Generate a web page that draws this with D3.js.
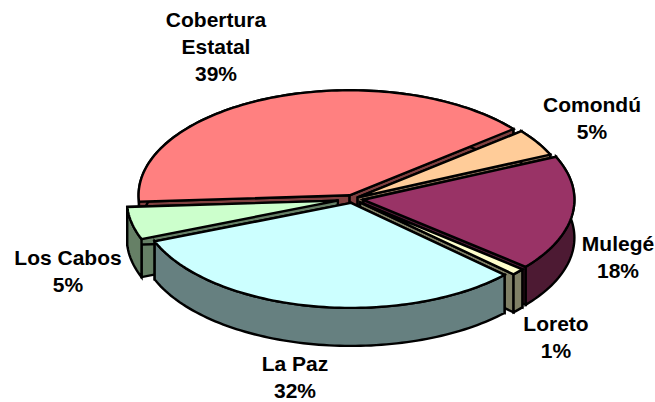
<!DOCTYPE html>
<html>
<head>
<meta charset="utf-8">
<script src="https://cdn.jsdelivr.net/npm/d3@7"></script>
<style>
  html, body { margin: 0; padding: 0; background: #fff; }
  text { font-family: "Liberation Sans", Arial, sans-serif; font-weight: bold; font-size: 21px; fill: #000; }
</style>
</head>
<body>
<svg id="chart" width="655" height="402"></svg>
<script>
const categories = ['Cobertura Estatal', 'Comondú', 'Mulegé', 'Loreto', 'La Paz', 'Los Cabos'];
const values = [39, 5, 18, 1, 32, 5];
const topColors = ['#FF8080', '#FFCC99', '#993366', '#FFFFCC', '#CCFFFF', '#CCFFCC'];
const wallColors = ['#804040', '#806650', '#4D1A33', '#808066', '#668080', '#668066'];

const svg = d3.select('svg#chart'),
    centerX = 352.5,
    centerY = 199,
    radiusX = 211,
    radiusY = 105,
    depth = 38,
    firstAngle = -93.5 * Math.PI / 180;

// how far each slice is pulled out, same order as categories
const explode = [8, 6, 11, 10, 8, 15];
// degrees the drawn slice edges are nudged, the picture has some perspective
const edgeNudge = [0, 4, 1, 0, 0, 0, 0];

// label lines and where each block sits, same order as categories
const labelLines = [['Cobertura', 'Estatal'], ['Comondú'], ['Mulegé'], ['Loreto'], ['La Paz'], ['Los Cabos']];
const labelX = [216, 592, 618, 556, 295, 68];
const labelY = [27, 112, 251, 331, 371, 265];
const lineHeight = 27;

const pie = d3.pie().sort(null).startAngle(firstAngle).endAngle(firstAngle + 2 * Math.PI);
const arcs = pie(values).map(a => ({
    index: a.index,
    startAngle: a.startAngle + edgeNudge[a.index] * Math.PI / 180,
    endAngle: a.endAngle + edgeNudge[a.index + 1] * Math.PI / 180
}));

const line = d3.line().x(d => d[0]).y(d => d[1]);

// pie plane to screen: angle is clockwise from north
function project(angle, r, offset, drop) {
    return [
        centerX + offset[0] + r * Math.sin(angle) * radiusX,
        centerY + offset[1] - r * Math.cos(angle) * radiusY + drop
    ];
}

function rimAngles(a) {
    const steps = Math.max(4, Math.ceil((a.endAngle - a.startAngle) * 40));
    return d3.range(steps + 1).map(i => a.startAngle + (a.endAngle - a.startAngle) * i / steps);
}

function drawSlice(a) {
    const i = a.index;
    const mid = (a.startAngle + a.endAngle) / 2;
    const offset = [explode[i] * Math.sin(mid), -explode[i] * Math.cos(mid) * radiusY / radiusX];
    const rim = rimAngles(a);
    const g = svg.append('g').attr('class', 'slice');

    const style = (sel, fill) => sel.attr('fill', fill)
        .attr('stroke', '#000')
        .attr('stroke-width', 2.4)
        .attr('stroke-linejoin', 'miter');

    // cut faces
    [a.startAngle, a.endAngle].forEach(angle => {
        style(g.append('path'), wallColors[i]).attr('d', line([
            project(0, 0, offset, 0),
            project(angle, 1, offset, 0),
            project(angle, 1, offset, depth),
            project(0, 0, offset, depth)
        ]) + 'Z');
    });

    // outer wall
    const rimTop = rim.map(t => project(t, 1, offset, 0));
    const rimBottom = rim.map(t => project(t, 1, offset, depth)).reverse();
    style(g.append('path'), wallColors[i]).attr('d', line(rimTop.concat(rimBottom)) + 'Z');

    // top face
    style(g.append('path'), topColors[i]).attr('d', line([project(0, 0, offset, 0)].concat(rimTop)) + 'Z');
}

// back to front
[0, 1, 2, 5, 3, 4].forEach(i => drawSlice(arcs[i]));

categories.forEach((name, i) => {
    const lines = labelLines[i].concat([values[i] + '%']);
    const t = svg.append('text').attr('text-anchor', 'middle');
    lines.forEach((s, j) => {
        t.append('tspan').attr('x', labelX[i]).attr('y', labelY[i] + j * lineHeight).text(s);
    });
});
</script>
</body>
</html>
